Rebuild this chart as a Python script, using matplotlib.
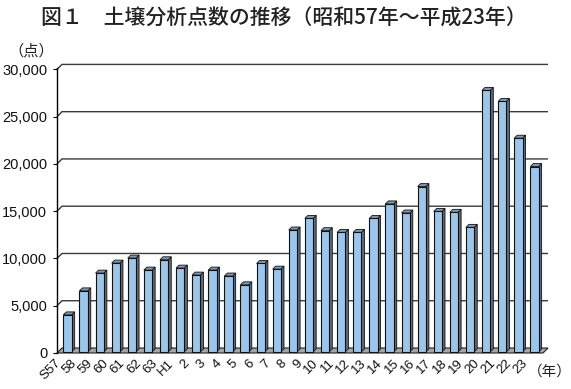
import matplotlib
matplotlib.use('Agg')
import matplotlib.pyplot as plt
from matplotlib.patches import Polygon
from matplotlib.transforms import ScaledTranslation

# ---- data ----
years = ['S57', '58', '59', '60', '61', '62', '63', 'H1', '2', '3', '4', '5', '6', '7', '8',
         '9', '10', '11', '12', '13', '14', '15', '16', '17', '18', '19', '20', '21', '22', '23']
counts = [4030, 6570, 8450, 9510, 10040, 8770, 9860, 8980, 8240, 8770, 8140, 7210, 9470, 8870, 13010,
          14240, 12940, 12760, 12760, 14240, 15770, 14810, 17600, 14980, 14880, 13290, 27780, 26610, 22720, 19720]
yticks = [0, 5000, 10000, 15000, 20000, 25000, 30000]
title = '図１　土壌分析点数の推移（昭和57年～平成23年）'

CJK = ['Noto Sans CJK JP', 'DejaVu Sans']

W, H = 571, 389
fig = plt.figure(figsize=(W / 100, H / 100), dpi=100)
left_px, right_px, bot_px, top_px = 57, 548, 353, 68
ax = fig.add_axes([left_px / W, (H - bot_px) / H, (right_px - left_px) / W, (bot_px - top_px) / H])
x0, x1 = -0.652, 29.84
y0, y1 = 0, 30150
ax.set_xlim(x0, x1)
ax.set_ylim(y0, y1)
px_x = (x1 - x0) / (right_px - left_px)
px_y = (y1 - y0) / (bot_px - top_px)

# back wall gridlines with depth offset
dwx, dwy = 5 * px_x, 5 * px_y
for v in yticks[1:]:
    ax.plot([x0, x0 + dwx, x1], [v, v + dwy, v + dwy], color='#3a3a3a', lw=1.0,
            zorder=1, clip_on=False, solid_capstyle='butt')

# floor
floor = Polygon([(x0, 0), (x0 + dwx, dwy), (x1, dwy), (x1 - dwx, 0)], closed=True,
                facecolor='#a6a6a6', edgecolor='#222222', lw=0.8, zorder=1.5, clip_on=False)
ax.add_patch(floor)

# bars
xs = list(range(len(counts)))
bw = 8.3 * px_x
ddx, ddy = 3 * px_x, 3 * px_y
base = 1.2 * px_y
ax.bar(xs, [c - base for c in counts], bottom=base, width=bw, color='#9bc5ea',
       edgecolor='#111111', lw=0.8, zorder=3)
for x, c in zip(xs, counts):
    xl, xr = x - bw / 2, x + bw / 2
    side = Polygon([(xr, base), (xr + ddx, base + ddy), (xr + ddx, c + ddy), (xr, c)], closed=True,
                   facecolor='#5d6b7e', edgecolor='#111111', lw=0.6, zorder=2.9)
    topf = Polygon([(xl, c), (xl + ddx, c + ddy), (xr + ddx, c + ddy), (xr, c)], closed=True,
                   facecolor='#8196b0', edgecolor='#111111', lw=0.6, zorder=2.9)
    ax.add_patch(side)
    ax.add_patch(topf)

# spines
for s in ['top', 'right', 'bottom']:
    ax.spines[s].set_visible(False)
ax.spines['left'].set_color('black')
ax.spines['left'].set_linewidth(1.0)

ax.set_yticks(yticks)
ax.set_yticklabels([f'{v:,}' for v in yticks], family=['Liberation Sans', 'DejaVu Sans'],
                   fontsize=10.5, color='#111111')
ax.tick_params(axis='y', length=3, width=0.8, pad=4, color='black')

ax.set_xticks(xs)
ax.set_xticklabels(years, rotation=45, ha='right', va='top', rotation_mode='anchor',
                   family=['Liberation Sans', 'DejaVu Sans'], fontsize=9.5, color='#111111')
ax.tick_params(axis='x', length=0, pad=3)
off = ScaledTranslation(-13 / 100, 0, fig.dpi_scale_trans)
for lab in ax.get_xticklabels():
    lab.set_transform(lab.get_transform() + off)

fig.text(284 / W, 1 - 19 / H, title, ha='center', va='center', fontsize=15,
         family=CJK, weight='medium', color='#222222')
fig.text(31 / W, 1 - 51 / H, '（点）', ha='center', va='center', fontsize=11, family=CJK, color='#222222')
fig.text(550 / W, 1 - 372 / H, '（年）', ha='center', va='center', fontsize=10.5, family=CJK, color='#222222')

fig.savefig('out.png', dpi=100)
